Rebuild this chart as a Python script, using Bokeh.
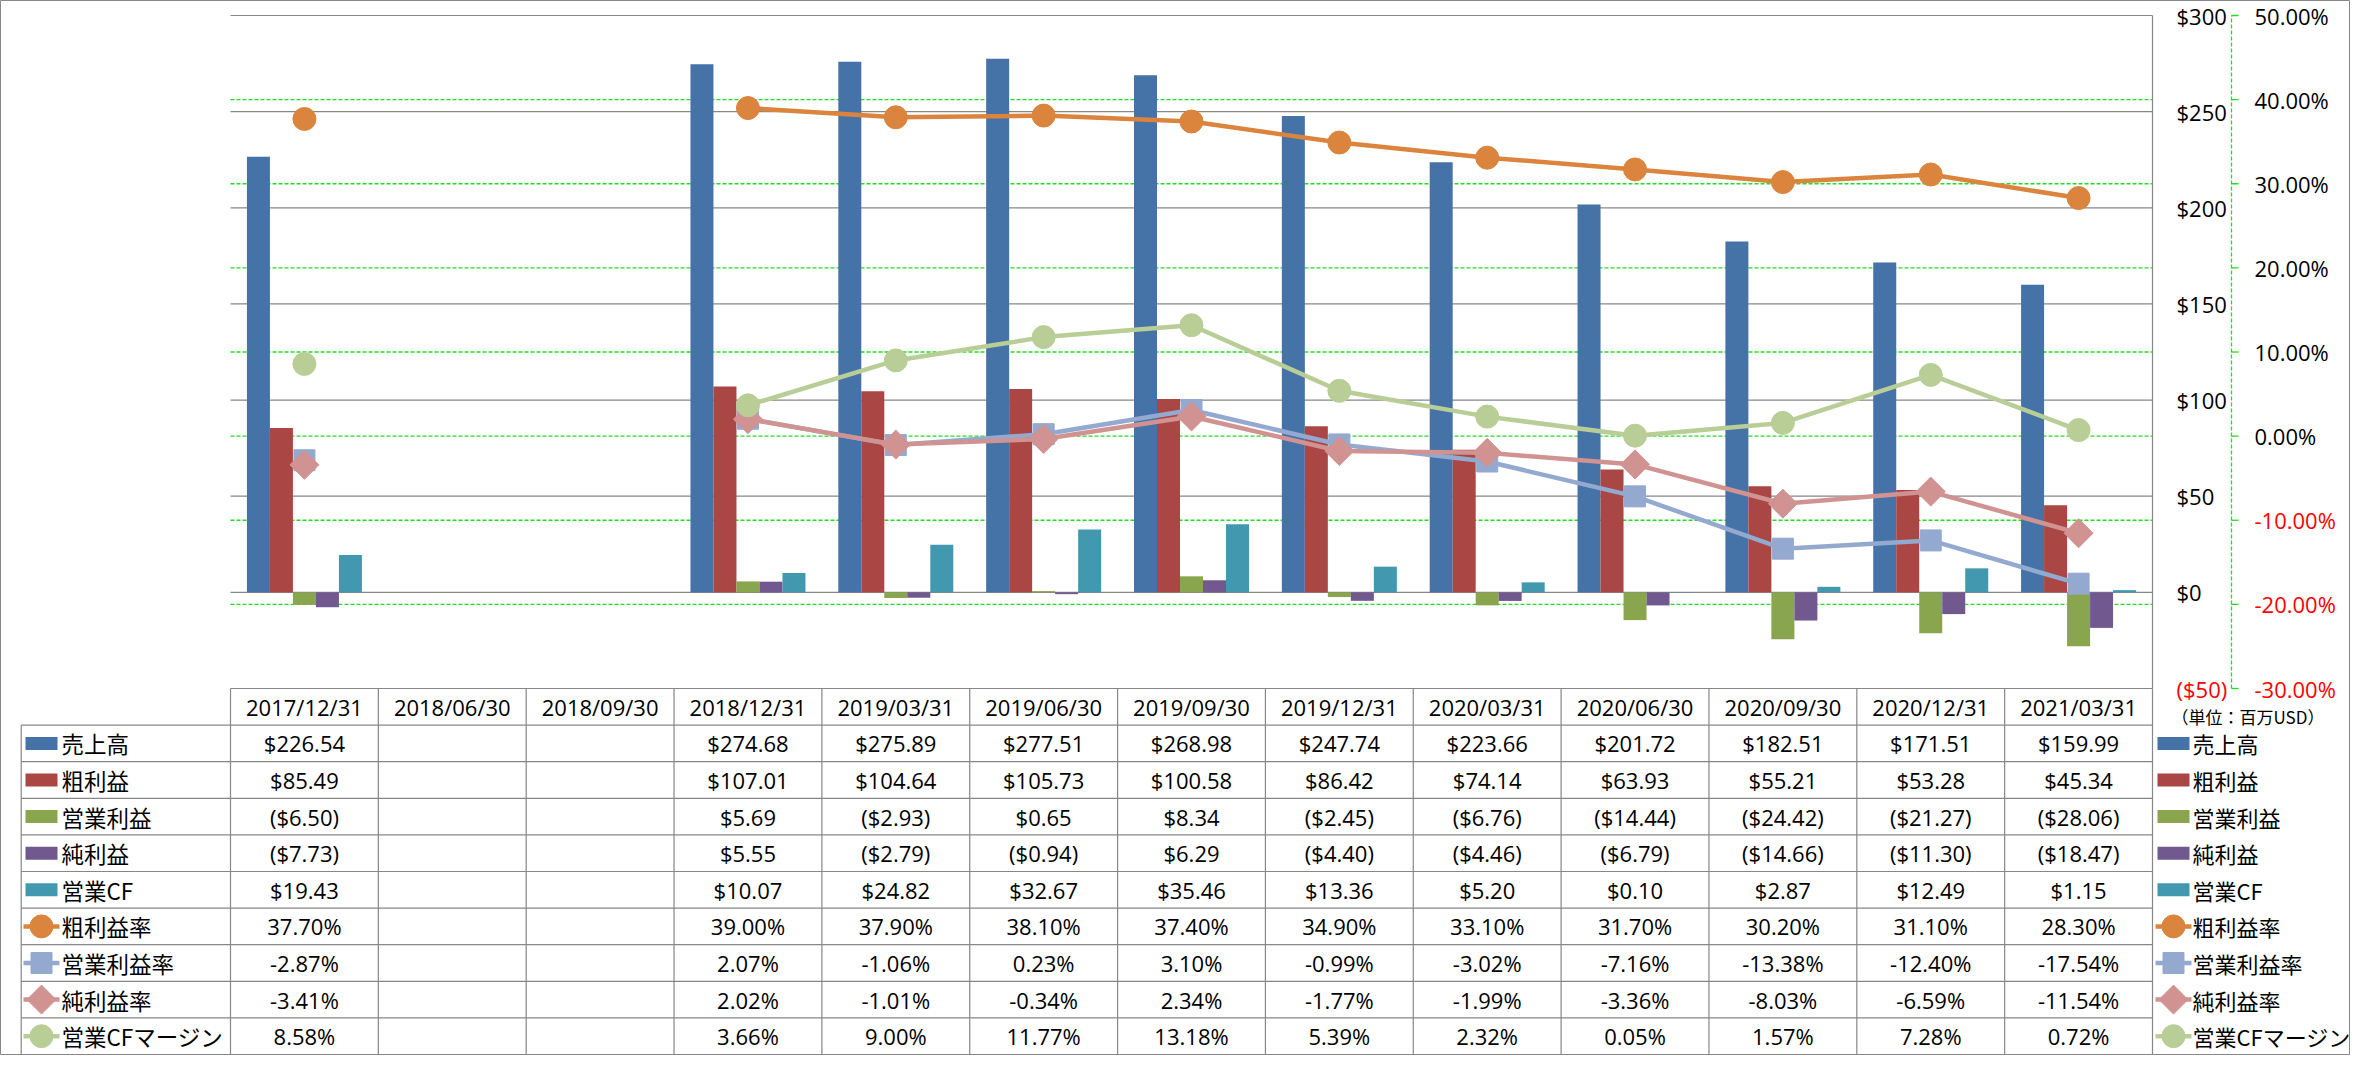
import math
from bokeh.plotting import figure
from bokeh.models import Range1d
from bokeh.embed import file_html
from bokeh.resources import INLINE
from bokeh.core.properties import value

# ---------------- data ----------------
categories = ["2017/12/31", "2018/06/30", "2018/09/30", "2018/12/31", "2019/03/31",
              "2019/06/30", "2019/09/30", "2019/12/31", "2020/03/31", "2020/06/30",
              "2020/09/30", "2020/12/31", "2021/03/31"]
sales = [226.54, None, None, 274.68, 275.89, 277.51, 268.98, 247.74, 223.66, 201.72, 182.51, 171.51, 159.99]
gross_profit = [85.49, None, None, 107.01, 104.64, 105.73, 100.58, 86.42, 74.14, 63.93, 55.21, 53.28, 45.34]
op_income = [-6.50, None, None, 5.69, -2.93, 0.65, 8.34, -2.45, -6.76, -14.44, -24.42, -21.27, -28.06]
net_income = [-7.73, None, None, 5.55, -2.79, -0.94, 6.29, -4.40, -4.46, -6.79, -14.66, -11.30, -18.47]
op_cf = [19.43, None, None, 10.07, 24.82, 32.67, 35.46, 13.36, 5.20, 0.10, 2.87, 12.49, 1.15]
gross_margin = [37.70, None, None, 39.00, 37.90, 38.10, 37.40, 34.90, 33.10, 31.70, 30.20, 31.10, 28.30]
op_margin = [-2.87, None, None, 2.07, -1.06, 0.23, 3.10, -0.99, -3.02, -7.16, -13.38, -12.40, -17.54]
net_margin = [-3.41, None, None, 2.02, -1.01, -0.34, 2.34, -1.77, -1.99, -3.36, -8.03, -6.59, -11.54]
cf_margin = [8.58, None, None, 3.66, 9.00, 11.77, 13.18, 5.39, 2.32, 0.05, 1.57, 7.28, 0.72]

bar_names = ["売上高", "粗利益", "営業利益", "純利益", "営業CF"]
line_names = ["粗利益率", "営業利益率", "純利益率", "営業CFマージン"]
usd_ticks = [300, 250, 200, 150, 100, 50, 0, -50]
pct_ticks = [50, 40, 30, 20, 10, 0, -10, -20, -30]
unit_label = "（単位：百万USD）"

# ---------------- layout constants (pixels) ----------------
W, H = 2350, 1055
X0 = 230.0                      # left edge of first category column
U = 1922.0 / len(categories)    # px per category
T, B = 15.0, 688.0              # plot top / bottom (px from top)
RH = (H - 1 - B) / 10.0         # table row height
usd_lo, usd_hi = -50, 300
pct_lo, pct_hi = -30, 50
ku = (B - T) / (usd_hi - usd_lo)
kp = (B - T) / (pct_hi - pct_lo)

def ux(px):
    return (px - X0) / U

def ty(px):
    return (px - B) / RH

p = figure(width=W, height=H, output_backend="svg", toolbar_location=None,
           x_range=Range1d(-X0 / U, (W - X0) / U),
           y_range=Range1d(usd_lo - (H - B) / ku, usd_hi + T / ku),
           x_axis_location=None, y_axis_location=None, min_border=0)
p.extra_y_ranges = {
    "pct": Range1d(pct_lo - (H - B) / kp, pct_hi + T / kp),
    "tbl": Range1d((H - B) / RH, -B / RH),
}
p.grid.visible = False
p.outline_line_color = "#888888"
p.outline_line_width = 1
p.background_fill_color = "white"
p.border_fill_color = "white"

GRAY = "#878787"
GREEN = "#1ee01e"
RED = "#ff0000"
LATIN = value("Open Sans")
CJK = value("Noto Sans CJK JP")
n = len(categories)
centers = [i + 0.5 for i in range(n)]

# ---------------- grid lines ----------------
p.segment(x0=0, x1=n, y0=usd_ticks, y1=usd_ticks, line_color=GRAY, line_width=1.2)
pg = [t for t in pct_ticks if pct_lo < t < pct_hi]
p.segment(x0=0, x1=n, y0=pg, y1=pg, y_range_name="pct", line_color=GREEN,
          line_width=1.3, line_dash="4 2")
# right border of plot
p.segment(x0=n, x1=n, y0=usd_lo, y1=usd_hi, line_color=GRAY, line_width=1.2)

# ---------------- bars ----------------
bar_series = [(sales, "#4572A7"), (gross_profit, "#AA4643"), (op_income, "#89A54E"),
              (net_income, "#71588F"), (op_cf, "#4198AF")]
BW = 23.0 / U
for k, (vals, col) in enumerate(bar_series):
    xs = [i + 0.5 + (k - 2) * BW for i, v in enumerate(vals) if v is not None]
    tops = [v for v in vals if v is not None]
    p.vbar(x=xs, top=tops, bottom=0, width=BW, fill_color=col, line_color=None)

# ---------------- lines ----------------
line_series = [(gross_margin, "#DB843D", "circle", 23, 0.0),
               (op_margin, "#93A9CF", "square", 21, 0.0),
               (net_margin, "#D19392", "square", 20.5, math.pi / 4),
               (cf_margin, "#B9CD96", "circle", 23, 0.0)]
for vals, col, mk, sz, ang in line_series:
    ys = [float("nan") if v is None else v for v in vals]
    p.line(x=centers, y=ys, y_range_name="pct", line_color=col, line_width=4.5)
    mx = [c for c, v in zip(centers, vals) if v is not None]
    my = [v for v in vals if v is not None]
    p.scatter(x=mx, y=my, y_range_name="pct", marker=mk, size=sz, angle=ang,
              fill_color=col, line_color=col)

# ---------------- axes (right side) ----------------
def usd_fmt(v):
    return "(${:,.0f})".format(-v) if v < 0 else "${:,.0f}".format(v)

p.text(x=ux(2176), y=usd_ticks, text=[usd_fmt(v) for v in usd_ticks],
       text_color=[RED if v < 0 else "black" for v in usd_ticks],
       text_font=LATIN, text_font_size="22px", text_align="left", text_baseline="middle")
ax_x = ux(2231)
p.segment(x0=ax_x, x1=ax_x, y0=pct_lo, y1=pct_hi, y_range_name="pct",
          line_color=GREEN, line_width=1.3, line_dash="4 2")
p.segment(x0=ax_x, x1=ux(2238), y0=pct_ticks, y1=pct_ticks, y_range_name="pct",
          line_color=GREEN, line_width=1.3)
p.text(x=ux(2254), y=pct_ticks, text=["{:.2f}%".format(v) for v in pct_ticks],
       text_color=[RED if v < 0 else "black" for v in pct_ticks],
       text_font=LATIN, text_font_size="22px", text_align="left", text_baseline="middle",
       y_range_name="pct")
p.text(x=ux(2171), y=ty(716), text=[unit_label], text_font=CJK, text_font_size="17px",
       text_align="left", text_baseline="middle", y_range_name="tbl")

# ---------------- data table ----------------
xl = ux(20.7)
p.segment(x0=list(range(n + 1)), x1=list(range(n + 1)), y0=0, y1=10,
          y_range_name="tbl", line_color=GRAY, line_width=1.2)
p.segment(x0=xl, x1=xl, y0=1, y1=10, y_range_name="tbl", line_color=GRAY, line_width=1.2)
rows = list(range(1, 11))
p.segment(x0=xl, x1=n, y0=rows, y1=rows, y_range_name="tbl", line_color=GRAY, line_width=1.2)

p.text(x=centers, y=0.5, text=categories, text_font=LATIN, text_font_size="22px",
       text_align="center", text_baseline="middle", y_range_name="tbl")

def money(v):
    if v is None:
        return ""
    return "(${:.2f})".format(-v) if v < 0 else "${:.2f}".format(v)

def pct(v):
    return "" if v is None else "{:.2f}%".format(v)

table_rows = [[money(v) for v in s] for s, _ in bar_series] + \
             [[pct(v) for v in s] for s, *_ in line_series]
for r, texts in enumerate(table_rows, start=1):
    xs = [c for c, t in zip(centers, texts) if t]
    tt = [t for t in texts if t]
    p.text(x=xs, y=r + 0.5, text=tt, text_font=LATIN, text_font_size="22px",
           text_align="center", text_baseline="middle", y_range_name="tbl")

# ---------------- legend keys (left header & right legend) ----------------
names = bar_names + line_names
kh = 6.5 / RH
for kx0, kx1, tx, fs in [(ux(25), ux(57), ux(61), "22.5px"),
                         (ux(2157), ux(2189), ux(2192), "22px")]:
    for k, (vals, col) in enumerate(bar_series):
        r = k + 1
        p.quad(left=kx0, right=kx1, bottom=r + 0.5 + kh, top=r + 0.5 - kh,
               fill_color=col, line_color=None, y_range_name="tbl")
    for k, (vals, col, mk, sz, ang) in enumerate(line_series):
        r = k + 6
        mid = (kx0 + kx1) / 2
        p.segment(x0=kx0 - 2 / U, x1=kx1 + 2 / U, y0=r + 0.5, y1=r + 0.5,
                  line_color=col, line_width=4.5, y_range_name="tbl")
        p.scatter(x=[mid], y=[r + 0.5], marker=mk, size=sz, angle=ang,
                  fill_color=col, line_color=col, y_range_name="tbl")
    p.text(x=tx, y=[r + 0.5 for r in range(1, 10)], text=names, text_font=CJK,
           text_font_size=fs, text_align="left", text_baseline="middle",
           y_range_name="tbl")

open("out.html", "w").write(file_html(p, INLINE))
